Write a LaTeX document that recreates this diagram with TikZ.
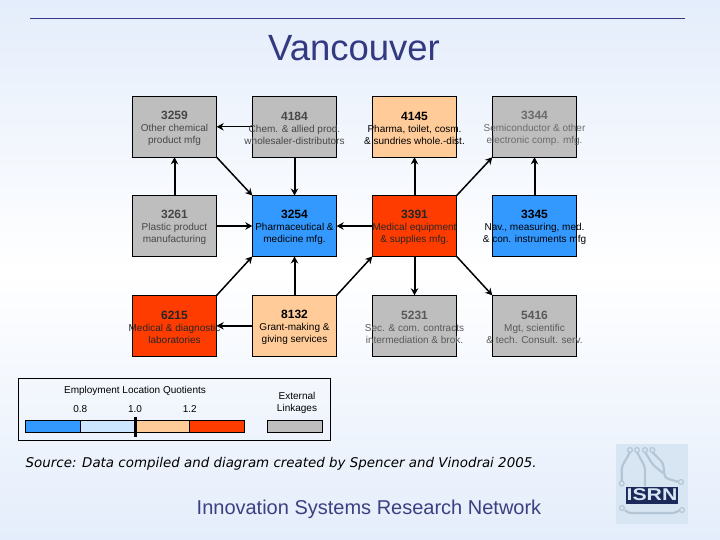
\documentclass[tikz,border=0pt]{standalone}
\usepackage{fontspec}
\setmainfont{Liberation Sans}
\newfontfamily\sourcefont{DejaVu Sans}
\usetikzlibrary{arrows.meta}
\definecolor{bgblue}{HTML}{E4EDFB}
\definecolor{titleblue}{HTML}{333A82}
\definecolor{footblue}{HTML}{3A4080}
\definecolor{extgrey}{HTML}{BEBEBE}
\definecolor{lqblue}{HTML}{3399FF}
\definecolor{lqpale}{HTML}{CCE6FF}
\definecolor{lqpeach}{HTML}{FFCC99}
\definecolor{lqred}{HTML}{FF3C00}
\definecolor{logoblue}{HTML}{D8E5F3}
\definecolor{logoline}{HTML}{B4C6D6}
\definecolor{logonavy}{HTML}{1B2A5A}
\tikzset{
  sector/.style={draw=black, line width=0.9pt, minimum width=84.4pt, minimum height=61pt, inner sep=0pt, outer sep=0pt},
  sectortext/.style={align=center, font=\fontsize{10}{12}\selectfont, inner sep=0pt, yshift=-1.4pt},
  link/.style={-{Stealth[length=7pt,width=7.5pt]}, line width=2pt, black},
  thinlink/.style={link, line width=1pt},
  swatch/.style={draw=black, line width=0.8pt, minimum height=11.6pt, inner sep=0pt, outer sep=0pt},
  legendtext/.style={align=center, font=\fontsize{10}{12}\selectfont, inner sep=0pt},
  logotrace/.style={logoline, line width=2.2pt, rounded corners=3pt},
}
\newcommand{\codenum}[1]{{\fontsize{12}{12}\selectfont\bfseries #1}\\[0.5pt]}
\begin{document}
\begin{tikzpicture}[x=1pt,y=-1pt]
\useasboundingbox (0,0) rectangle (720,540);
\shade[top color=bgblue, bottom color=bgblue, middle color=white] (0,0) rectangle (720,540);
\coordinate (rulestart) at (30,18);
\coordinate (ruleend) at (685,18);
\draw[titleblue, line width=0.9pt] (rulestart) -- (ruleend);
\node[titleblue, font=\fontsize{36.5}{36}\selectfont, inner sep=0pt] (title) at (354,48.5) {Vancouver};
% sector boxes
\node[sector, fill=extgrey] (s3259) at (174.5,126.8) {};
\node[sector, fill=extgrey] (s4184) at (294.5,126.8) {};
\node[sector, fill=lqpeach] (s4145) at (414.5,126.8) {};
\node[sector, fill=extgrey] (s3344) at (534.5,126.8) {};
\node[sector, fill=extgrey] (s3261) at (174.5,226) {};
\node[sector, fill=lqblue] (s3254) at (294.5,226) {};
\node[sector, fill=lqred] (s3391) at (414.5,226) {};
\node[sector, fill=lqblue] (s3345) at (534.5,226) {};
\node[sector, fill=lqred] (s6215) at (174.5,325.8) {};
\node[sector, fill=lqpeach] (s8132) at (294.5,325.8) {};
\node[sector, fill=extgrey] (s5231) at (414.5,325.8) {};
\node[sector, fill=extgrey] (s5416) at (534.5,325.8) {};
% links
\draw[thinlink] (s4184.west) -- (s3259.east);
\draw[link] (s3261.north) -- (s3259.south);
\draw[link, line width=1.5pt] (s3259.south east) -- (s3254.north west);
\draw[link] (s4184.south) -- (s3254.north);
\draw[link] (s3261.east) -- (s3254.west);
\draw[link] (s3391.west) -- (s3254.east);
\draw[link, line width=1.5pt] (s6215.north east) -- (s3254.south west);
\draw[link] (s8132.north) -- (s3254.south);
\draw[link] (s8132.west) -- (s6215.east);
\draw[link, line width=1.5pt] (s8132.north east) -- (s3391.south west);
\draw[link] (s3391.north) -- (s4145.south);
\draw[link, line width=1.5pt] (s3391.north east) -- (s3344.south west);
\draw[link] (s3345.north) -- (s3344.south);
\draw[link] (s3391.south) -- (s5231.north);
\draw[link, line width=1.5pt] (s3391.south east) -- (s5416.north west);
% box texts
\node[sectortext, text=black!72] (t3259) at (s3259) {\codenum{3259}Other chemical\\product mfg};
\node[sectortext, text=black!72] (t4184) at (s4184) {\codenum{4184}Chem. \& allied prod.\\wholesaler-distributors};
\node[sectortext, text=black] (t4145) at (s4145) {\codenum{4145}Pharma, toilet, cosm.\\\& sundries whole.-dist.};
\node[sectortext, text=black!58] (t3344) at (s3344) {\codenum{3344}Semiconductor \& other\\electronic comp. mfg.};
\node[sectortext, text=black!72] (t3261) at (s3261) {\codenum{3261}Plastic product\\manufacturing};
\node[sectortext, text=black] (t3254) at (s3254) {\codenum{3254}Pharmaceutical \&\\medicine mfg.};
\node[sectortext, text=black!85] (t3391) at (s3391) {\codenum{3391}Medical equipment\\\& supplies mfg.};
\node[sectortext, text=black] (t3345) at (s3345) {\codenum{3345}Nav., measuring, med.\\\& con. instruments mfg};
\node[sectortext, text=black!85] (t6215) at (s6215) {\codenum{6215}Medical \& diagnostic\\laboratories};
\node[sectortext, text=black] (t8132) at (s8132) {\codenum{8132}Grant-making \&\\giving services};
\node[sectortext, text=black!65] (t5231) at (s5231) {\codenum{5231}Sec. \& com. contracts\\intermediation \& brok.};
\node[sectortext, text=black!65] (t5416) at (s5416) {\codenum{5416}Mgt, scientific\\\& tech. Consult. serv.};
% legend
\node[draw=black, line width=0.8pt, minimum width=312.4pt, minimum height=61.7pt, inner sep=0pt] (legend) at (174.5,409.2) {};
\node[legendtext] (lqtitle) at (135,391) {Employment Location Quotients};
\node[legendtext] (lq08) at (80.3,409) {0.8};
\node[legendtext] (lq10) at (135,409) {1.0};
\node[legendtext] (lq12) at (189.7,409) {1.2};
\node[swatch, fill=lqblue, minimum width=55pt] (barblue) at (52.8,426.5) {};
\node[swatch, fill=lqpale, minimum width=54.7pt] (barpale) at (107.7,426.5) {};
\node[swatch, fill=lqpeach, minimum width=54.7pt] (barpeach) at (162.4,426.5) {};
\node[swatch, fill=lqred, minimum width=55pt] (barred) at (217.2,426.5) {};
\coordinate (ticktop) at (135.2,416.7);
\coordinate (tickbot) at (135.2,436.7);
\draw[black, line width=3pt] (ticktop) -- (tickbot);
\node[legendtext] (exttext) at (297,403) {External\\Linkages};
\node[swatch, fill=extgrey, minimum width=55.4pt] (extswatch) at (295,426.5) {};
% footer
\node[anchor=west, inner sep=0pt, font=\sourcefont\itshape\fontsize{13.4}{15}\selectfont] (source) at (25.5,463.5) {Source: Data compiled and diagram created by Spencer and Vinodrai 2005.};
\node[footblue, font=\fontsize{20}{20}\selectfont, inner sep=0pt] (footer) at (369,509.5) {Innovation Systems Research Network};
% logo
\node[fill=logoblue, minimum width=72pt, minimum height=80pt, inner sep=0pt] (logo) at (652,484) {};
\draw[logotrace] (630,452) -- (621.7,467) -- (621.7,482);
\draw[logotrace] (637,452) -- (645,467) -- (645,486);
\draw[logotrace] (645,452) -- (653,465) -- (663,473);
\draw[logotrace] (652.3,452) -- (663,463) -- (665,478) -- (679,482);
\draw[logotrace] (625,510) -- (628,513) -- (675,513) -- (680,510);
\foreach \lx/\ly in {630/450,637/450,645/450,652.3/450,621.7/483.5,681/482,622/508,682/510}
  \draw[logoline, fill=logoblue, line width=1.2pt] (\lx,\ly) circle (2.4pt);
\node[fill=logonavy, text=logoblue, minimum width=52pt, minimum height=17pt, inner sep=0pt, font=\fontsize{17}{17}\selectfont\bfseries] (logotext) at (652,495) {\scalebox{1.25}[1]{ISRN}};
\end{tikzpicture}
\end{document}
